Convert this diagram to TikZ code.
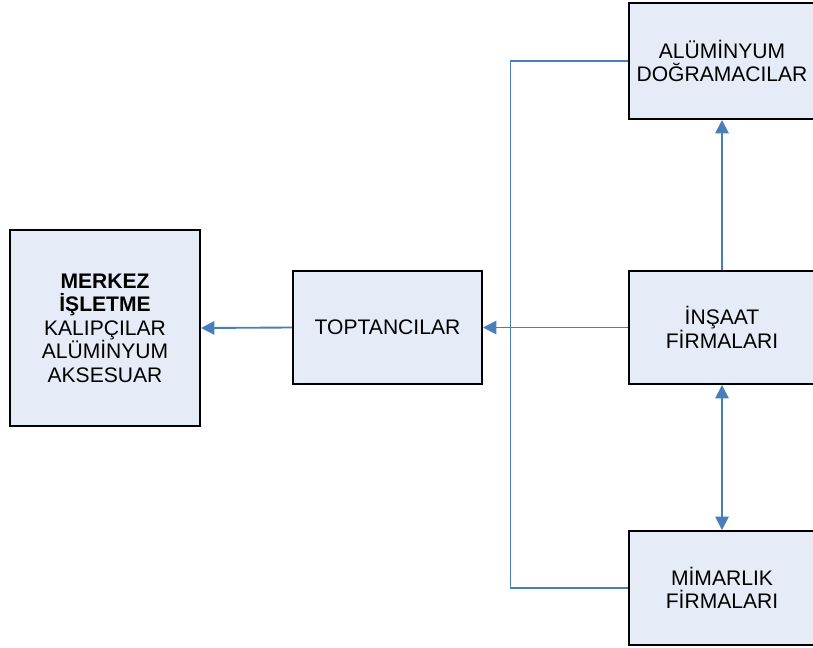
\documentclass[tikz,border=0pt]{standalone}
\usepackage{fontspec}
\setmainfont{Liberation Sans}
\usetikzlibrary{arrows.meta}

\begin{document}
\begin{tikzpicture}[x=0.75pt,y=-0.75pt,
    kutu/.style={draw=black,line width=1.5pt,fill=kutumavi,align=center,
      inner sep=0pt,font=\fontsize{15.8}{17.6}\selectfont},
    ok/.style={draw=okmavi,line width=1.4pt,-{Triangle[length=10pt,width=10pt]}},
    hat/.style={draw=okmavi,line width=1.4pt}]
        \definecolor{kutumavi}{HTML}{E6ECF7}
        \definecolor{okmavi}{HTML}{4A7EBB}
        \useasboundingbox (0,0) rectangle (813,647);
        \clip (0,0) rectangle (813,647);
        % kutular
        \node[kutu,minimum width=142.5pt,minimum height=147pt] (merkez) at (105,328)
          {\textbf{MERKEZ}\\\textbf{İŞLETME}\\KALIPÇILAR\\ALÜMİNYUM\\AKSESUAR};
        \node[kutu,minimum width=141.75pt,minimum height=84.75pt] (toptan) at (387.5,327.5) {TOPTANCILAR};
        \node[kutu,minimum width=139.5pt,minimum height=87pt] (alum) at (722,61) {ALÜMİNYUM\\DOĞRAMACILAR};
        \node[kutu,minimum width=139.5pt,minimum height=84.75pt] (insaat) at (722,327.5) {İNŞAAT\\FİRMALARI};
        \node[kutu,minimum width=139.5pt,minimum height=85.5pt] (mimar) at (722,588) {MİMARLIK\\FİRMALARI};
        \coordinate (dirsek) at (510.5,327.5);
        % baglantilar
        \draw[ok] (toptan.west) -- (merkez.east);
        \draw[ok] (insaat.west) -- (toptan.east);
        \draw[hat] (alum.west) -| (dirsek) |- (mimar.west);
        \draw[ok] (insaat.north) -- (alum.south);
        \draw[ok,{Triangle[length=10pt,width=10pt]}-{Triangle[length=10pt,width=10pt]}] (insaat.south) -- (mimar.north);
      \end{tikzpicture}
\end{document}
